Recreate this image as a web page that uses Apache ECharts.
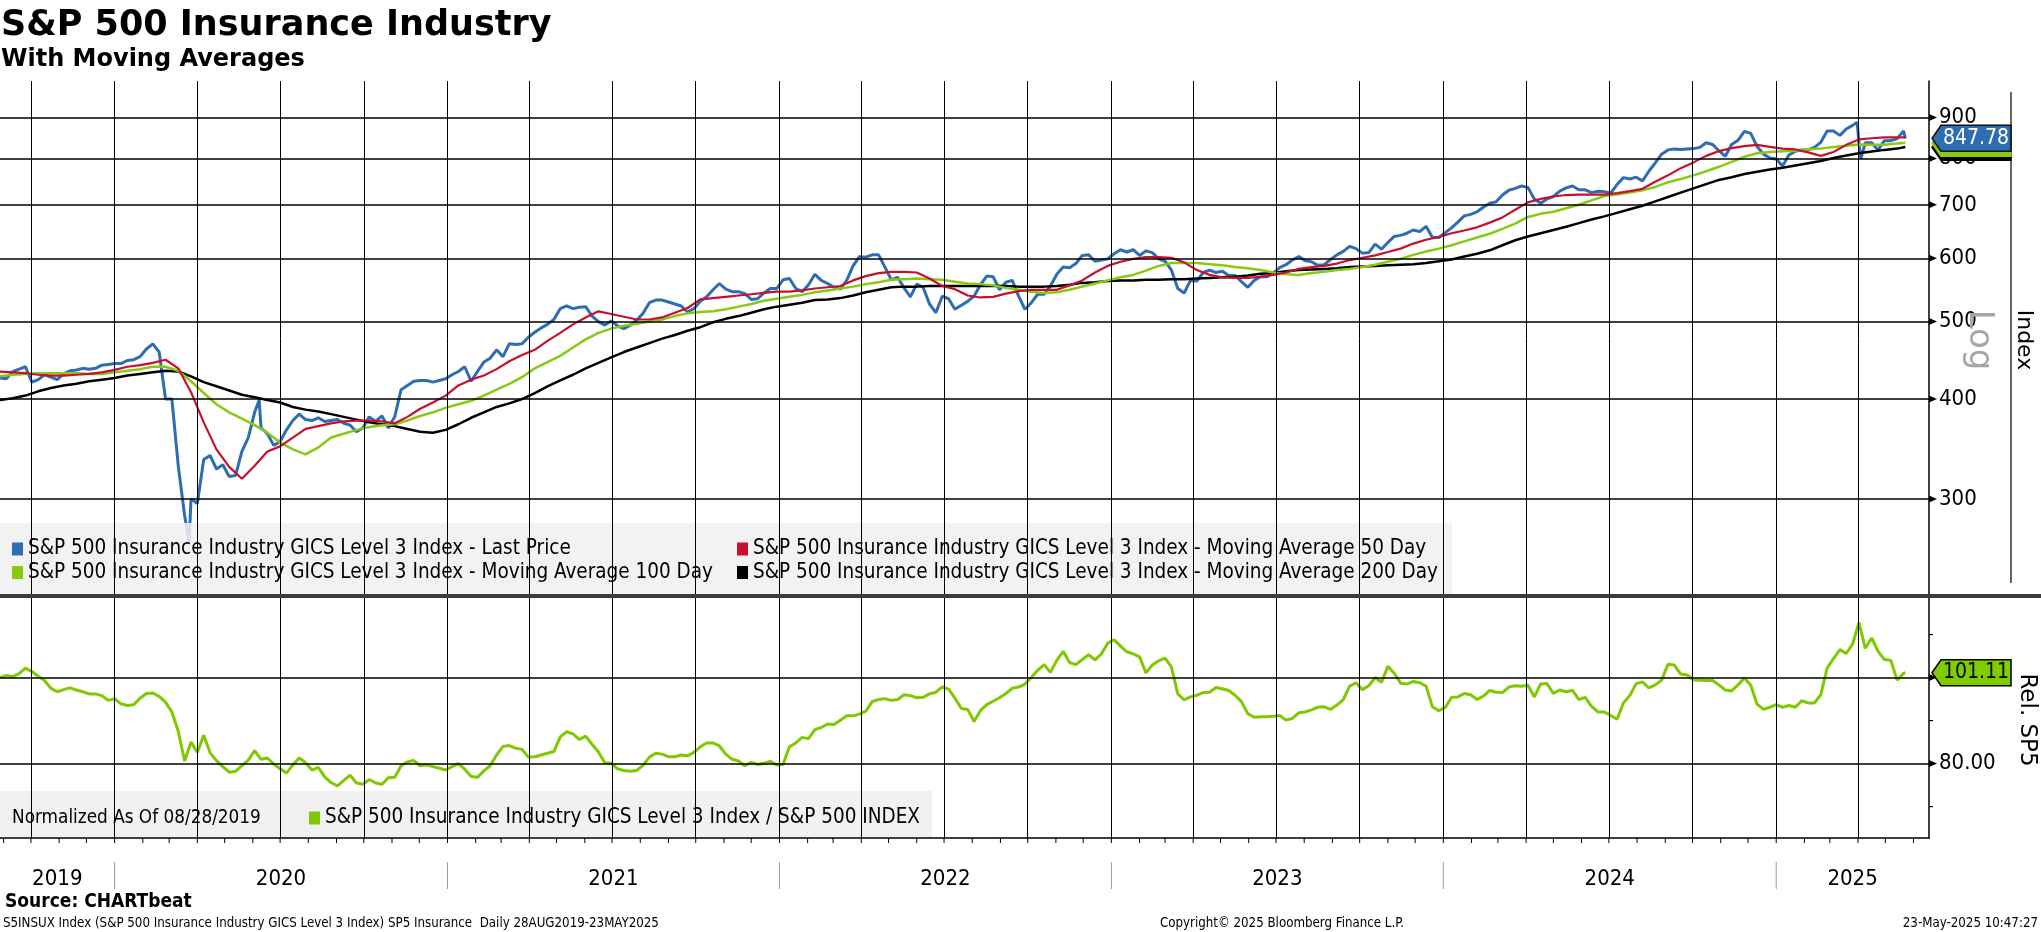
<!DOCTYPE html>
<html><head><meta charset="utf-8">
<script src="https://cdn.jsdelivr.net/npm/echarts@6/dist/echarts.min.js"></script>
<style>html,body{margin:0;padding:0;background:#fff;overflow:hidden}#c{width:2041px;height:932px}</style>
</head><body><div id="c"></div>
<script>
// ---------------- DATA ----------------
const START = '2019-08-28';          // first observation (normalisation date)
const LAST_DATE = '2025-05-23';      // last observation
const AXIS_END = '2025-06-18';       // right edge of the time axis

// S&P 500 Insurance Industry GICS Level 3 Index – last price, weekly from START
const lastPrice = [
425,424,433,436,439,420,423,429,426,423,
430,434,435,437,436,437,441,442,443,443,
447,448,452,462,469,458,400,400,330,286,
300,296,336,340,327,331,320,321,344,358,
385,368,362,350,354,366,376,383,377,376,
379,375,376,377,373,371,364,368,380,375,
381,368,380,411,416,421,422,422,420,422,
424,429,433,439,421,433,445,450,461,452,
469,468,469,478,485,491,496,503,519,523,
519,521,522,508,500,495,501,494,490,495,
502,512,528,532,532,529,526,523,514,519,
530,537,548,558,549,545,545,542,533,534,
543,550,550,564,566,550,545,556,573,563,
558,552,549,563,587,603,602,606,606,585,
564,568,551,537,557,552,526,513,538,534,
518,524,530,538,556,570,569,548,560,563,
538,518,528,541,541,554,573,585,584,591,
605,606,595,597,599,608,615,611,615,605,
613,610,599,595,580,550,543,563,562,576,
580,576,578,571,571,561,552,563,569,569,
575,584,589,597,603,596,594,588,589,598,
606,612,621,617,609,610,625,616,628,639,
641,645,651,648,658,637,637,646,655,666,
678,681,686,695,703,706,720,730,734,739,
736,712,703,712,717,728,735,739,731,731,
725,728,727,724,742,757,754,758,750,771,
790,810,820,822,821,822,823,826,837,833,
818,805,833,843,865,860,828,810,801,799,
783,808,817,820,820,826,838,866,866,855,
871,880,835,837,837,820,842,842,847,866];
const priceExtremes = [['2020-03-23',265],['2020-06-08',399],['2025-03-31',888],['2025-04-04',799]];
const lastPriceFinal = 847.78;

// moving averages, every 2 weeks from START
const ma50 = [
433,432,431,429,428,428,429,430,432,435,
439,441,444,448,437,408,374,346,329,318,
330,344,349,358,367,370,373,375,376,376,
375,373,380,389,396,404,416,423,428,436,
446,454,461,473,484,496,506,515,511,507,
503,503,506,513,520,533,535,537,539,541,
543,545,545,547,550,552,554,563,570,575,
577,577,576,566,554,549,539,536,537,542,
546,548,548,548,555,563,576,587,594,599,
602,602,601,593,580,572,568,567,567,569,
572,576,582,585,587,591,597,601,605,611,
617,626,633,638,645,650,656,665,675,690,
705,712,717,720,721,721,721,724,728,733,
748,762,778,791,806,817,824,829,832,827,
823,821,814,806,815,832,845,848,850,850];
const ma50Final = 850;
const ma100 = [
427,429,430,431,431,431,431,430,430,432,
434,436,439,439,434,421,407,394,385,378,
371,363,353,346,341,348,358,362,366,369,
371,372,376,381,385,390,394,398,404,411,
418,426,437,445,453,464,475,484,490,494,
497,500,503,508,512,514,515,518,522,526,
531,534,537,540,544,547,550,553,557,560,
564,565,566,565,564,561,558,557,555,551,
548,545,543,544,548,553,558,563,568,572,
579,587,592,592,592,590,588,585,583,580,
576,573,572,575,577,580,582,585,589,594,
599,606,612,617,623,630,637,644,653,663,
676,682,686,693,700,709,718,721,725,730,
737,747,754,762,771,781,792,804,812,815,
817,818,821,823,827,830,833,832,832,835];
const ma100Final = 837;
const ma200 = [
399,401,404,409,413,416,418,421,423,425,
428,430,432,434,433,427,420,415,410,405,
402,399,396,391,388,386,383,380,377,374,
372,370,367,364,363,366,372,379,385,391,
395,400,407,415,422,429,437,444,451,458,
464,470,476,481,487,492,499,504,508,513,
518,522,525,528,532,533,535,539,544,548,
552,553,553,554,554,554,554,554,554,554,
553,553,553,554,556,559,560,562,563,563,
564,564,565,565,566,567,568,569,571,574,
575,578,580,581,582,583,585,586,587,588,
589,590,592,595,598,603,608,614,623,632,
639,645,651,657,664,671,677,684,691,698,
707,716,725,734,743,752,758,765,770,775,
779,784,789,794,801,807,812,816,820,823];
const ma200Final = 827;

// Insurance / S&P 500, normalised to 100 on 08/28/2019, weekly from START
const relSP5 = [
100.0,100.5,100.2,100.9,102.2,101.4,100.3,99.3,97.5,96.7,
97.2,97.6,97.1,96.7,96.2,96.2,95.8,94.7,95.1,93.9,
93.5,93.7,95.2,96.3,96.4,95.6,94.3,92.0,87.5,80.6,
85.0,82.6,86.6,82.5,80.7,79.3,78.0,78.2,79.5,80.8,
83.0,81.0,81.3,79.9,78.8,77.8,79.7,81.3,80.2,78.5,
79.1,76.9,75.6,74.8,76.1,77.3,75.5,75.2,76.3,75.5,
75.2,76.7,76.8,79.5,80.4,80.7,79.5,79.7,79.3,78.9,
78.5,79.3,80.0,78.7,77.0,76.8,78.3,79.5,82.0,84.0,
84.2,83.6,83.3,81.5,81.6,82.0,82.4,82.8,86.2,87.4,
86.9,85.6,86.4,84.5,82.7,80.2,80.1,78.8,78.4,78.2,
78.4,79.6,81.5,82.4,82.2,81.6,81.6,82.0,81.8,82.6,
83.9,84.8,84.8,84.1,82.2,81.0,80.6,79.5,80.3,79.8,
80.1,80.5,79.7,79.8,83.9,84.8,86.1,85.8,87.9,88.4,
89.2,89.1,90.1,91.1,91.1,91.5,92.2,94.4,94.9,95.1,
94.7,94.9,96.0,95.8,95.3,95.4,96.2,96.6,97.8,97.3,
95.2,92.8,92.6,89.8,92.3,93.7,94.5,95.3,96.3,97.5,
97.8,98.5,100.0,101.7,103.0,101.2,104.0,106.1,103.5,103.0,
104.2,105.3,104.1,105.5,108.0,108.8,107.3,106.0,105.5,104.8,
101.1,102.9,103.9,104.5,102.5,96.2,94.8,95.5,95.9,96.5,
96.6,97.7,97.4,97.0,95.9,94.4,91.6,90.8,90.9,90.9,
91.0,91.2,90.1,90.5,91.8,92.0,92.5,93.1,93.2,92.6,
93.6,94.9,98.0,98.8,97.2,98.1,100.0,98.9,102.6,101.0,
98.7,98.5,99.1,98.8,98.0,93.2,92.3,93.0,95.4,95.5,
96.3,96.0,94.9,95.7,97.0,96.6,96.5,97.8,98.1,98.0,
98.2,95.5,98.5,98.6,96.3,97.1,96.7,97.0,94.9,95.4,
93.3,92.0,92.0,91.2,90.3,94.1,95.8,98.6,99.0,97.6,
98.3,99.4,103.1,102.9,100.8,100.6,99.5,99.4,99.3,99.3,
98.3,97.1,96.9,98.3,99.9,98.2,93.8,92.6,93.1,93.7,
93.1,93.5,93.1,94.6,94.1,94.1,96.0,102.2,104.4,106.5,
105.6,107.8,112.8,106.8,109.2,106.1,104.2,104.0,99.4,101.0];
const relFinal = 101.11;

const priceTicks = [300,400,500,600,700,800,900];
const relTicks = [80];
const relMinorTicks = [70,90,110];
const relGrid = [80,100];
const years = ['2019','2020','2021','2022','2023','2024','2025'];
const quarterLines = ['2019-10-01','2020-01-01','2020-04-01','2020-07-01','2020-10-01','2021-01-01','2021-04-01','2021-07-01','2021-10-01','2022-01-01','2022-04-01','2022-07-01','2022-10-01','2023-01-01','2023-04-01','2023-07-01','2023-10-01','2024-01-01','2024-04-01','2024-07-01','2024-10-01','2025-01-01','2025-04-01'];

const NAMES = {
  price: 'S&P 500 Insurance Industry GICS Level 3 Index - Last Price',
  ma50: 'S&P 500 Insurance Industry GICS Level 3 Index - Moving Average 50 Day',
  ma100: 'S&P 500 Insurance Industry GICS Level 3 Index - Moving Average 100 Day',
  ma200: 'S&P 500 Insurance Industry GICS Level 3 Index - Moving Average 200 Day',
  rel: 'S&P 500 Insurance Industry GICS Level 3 Index / S&P 500 INDEX'
};

// ---------------- BUILD ----------------
const DAY = 864e5;
const ts = s => { const p = s.split('-').map(Number); return Date.UTC(p[0], p[1]-1, p[2]); };
const T0 = ts(START), TL = ts(LAST_DATE), XMAX = ts(AXIS_END);
const series7 = (arr, stepDays) => arr.map((v, i) => [T0 + i*stepDays*DAY, v]);

const priceData = series7(lastPrice, 7).concat(priceExtremes.map(e => [ts(e[0]), e[1]]), [[TL, lastPriceFinal]]).sort((a,b)=>a[0]-b[0]);
const ma50Data = series7(ma50, 14).concat([[TL, ma50Final]]);
const ma100Data = series7(ma100, 14).concat([[TL, ma100Final]]);
const ma200Data = series7(ma200, 14).concat([[TL, ma200Final]]);
const relData = series7(relSP5, 7).concat([[TL, relFinal]]);

const BLUE = '#2e6db2', RED = '#c8102e', LIME = '#86cb12', BLACK = '#000000', REL = '#80c800';
const COND = '"DejaVu Sans Condensed", "Liberation Sans Narrow", "DejaVu Sans", sans-serif';
const SANS = '"DejaVu Sans", Verdana, sans-serif';

const GRID_R = 112;
const lineS = (name, data, color, width, xi, z) => ({
  name, type: 'line', data, xAxisIndex: xi, yAxisIndex: xi, color,
  showSymbol: false, symbol: 'none', animation: false, z: z || 2,
  lineStyle: { color, width }, itemStyle: { color }, emphasis: { disabled: true }
});
const gridMarks = (gi, hvals, hw) => ({
  type: 'line', xAxisIndex: gi, yAxisIndex: gi, data: [[T0, hvals[0]]], showSymbol: false,
  symbol: 'none', lineStyle: { opacity: 0 }, z: 6, silent: true, animation: false,
  markLine: {
    silent: true, symbol: ['none','none'], animation: false, label: { show: false },
    data: quarterLines.map(q => ({ xAxis: ts(q), lineStyle: { color: '#000', width: 1, type: 'solid' } }))
      .concat(hvals.map(v => ({ yAxis: v, lineStyle: { color: '#000', width: hw, type: 'solid' } })))
  }
});

const chart = echarts.init(document.getElementById('c'), null, { renderer: 'canvas' });
const LFS = 20.5;
const legendText = { fontSize: LFS, fontFamily: COND, color: '#000', lineHeight: 22 };
const legendBase = { padding: 0, orient: 'vertical', itemGap: 1.5, itemWidth: 11, itemHeight: 13, icon: 'rect', selectedMode: false, textStyle: legendText };
const option = {
  animation: false,
  backgroundColor: '#fff',
  grid: [
    { left: 0, right: GRID_R, top: 81, height: 515 },
    { left: 0, right: GRID_R, top: 598, height: 240 }
  ],
  xAxis: [
    { type: 'time', gridIndex: 0, min: T0, max: XMAX, axisLine: { show: false }, axisTick: { show: false }, axisLabel: { show: false }, splitLine: { show: false } },
    { type: 'time', gridIndex: 1, min: T0, max: XMAX, axisLine: { show: true, lineStyle: { color: '#000', width: 1.5 } }, axisTick: { show: false }, axisLabel: { show: false }, splitLine: { show: false } }
  ],
  yAxis: [
    { type: 'log', gridIndex: 0, position: 'right', min: 226.8, max: 1000,
      axisLine: { show: true, lineStyle: { color: '#000', width: 1.5 } }, axisTick: { show: false }, splitLine: { show: false },
      axisLabel: { customValues: priceTicks, margin: 10, fontSize: 22, fontFamily: COND, color: '#000', formatter: v => String(Math.round(v)) } },
    { type: 'value', gridIndex: 1, position: 'right', min: 62.7, max: 118.5,
      axisLine: { show: true, lineStyle: { color: '#000', width: 1.5 } }, axisTick: { show: false }, splitLine: { show: false },
      axisLabel: { customValues: relTicks, margin: 10, fontSize: 22, fontFamily: COND, color: '#000', formatter: v => v.toFixed(2) } }
  ],
  legend: [
    Object.assign({ left: 12, top: 538, data: [NAMES.price, NAMES.ma100] }, legendBase),
    Object.assign({ left: 737, top: 538, data: [NAMES.ma50, NAMES.ma200] }, legendBase),
    Object.assign({ left: 309, top: 807, data: [NAMES.rel] }, legendBase)
  ],
  series: [
    lineS(NAMES.price, priceData, BLUE, 3, 0, 2),
    lineS(NAMES.ma200, ma200Data, BLACK, 2.5, 0, 3),
    lineS(NAMES.ma100, ma100Data, LIME, 2.5, 0, 3),
    lineS(NAMES.ma50, ma50Data, RED, 2.2, 0, 3),
    lineS(NAMES.rel, relData, REL, 3, 1, 2),
    gridMarks(0, priceTicks, 1.5),
    gridMarks(1, relGrid, 1.5)
  ]
};
chart.setOption(option);

// ---------- decorations placed through the chart's own scales ----------
const P = (gi, t, v) => chart.convertToPixel({ gridIndex: gi }, [t, v]);
const ax = P(0, XMAX, 500)[0];
const g = [];
const txt = (x, y, text, o) => Object.assign({ type: 'text', x, y, silent: true, z: 20,
  style: Object.assign({ text, fill: '#000', align: 'left', verticalAlign: 'middle', fontFamily: COND, fontSize: 22 }, o || {}) });
// title block
g.push(txt(1, 26, 'S&P 500 Insurance Industry', { fontFamily: SANS, fontWeight: 'bold', fontSize: 35 }));
g.push(txt(1, 60, 'With Moving Averages', { fontFamily: SANS, fontWeight: 'bold', fontSize: 24 }));
// legend backgrounds
g.push({ type: 'rect', shape: { x: 0, y: 523, width: 1452, height: 71 }, style: { fill: 'rgba(240,240,240,0.86)' }, z: 3, silent: true });
g.push({ type: 'rect', shape: { x: 0, y: 791, width: 932, height: 46 }, style: { fill: 'rgba(240,240,240,0.9)' }, z: 3, silent: true });
g.push(txt(12, 818, 'Normalized As Of 08/28/2019', { fontSize: 18.8 }));
// panel separator
g.push({ type: 'rect', shape: { x: 0, y: 594, width: 2041, height: 4 }, style: { fill: '#3c3c3c' }, z: 8, silent: true });
// axis arrow ticks
priceTicks.forEach(v => { const y = P(0, XMAX, v)[1];
  g.push({ type: 'polygon', shape: { points: [[ax, y-3.5],[ax+8, y],[ax, y+3.5]] }, style: { fill: '#000' }, z: 9, silent: true }); });
relGrid.forEach(v => { const y = P(1, XMAX, v)[1];
  g.push({ type: 'polygon', shape: { points: [[ax, y-3.5],[ax+8, y],[ax, y+3.5]] }, style: { fill: '#000' }, z: 9, silent: true }); });
relMinorTicks.forEach(v => { const y = P(1, XMAX, v)[1];
  g.push({ type: 'line', shape: { x1: ax, y1: y, x2: ax+4, y2: y }, style: { stroke: '#000', lineWidth: 1.2 }, z: 9, silent: true }); });
// right axis titles
g.push({ type: 'line', shape: { x1: 2011, y1: 92, x2: 2011, y2: 583 }, style: { stroke: '#000', lineWidth: 1.2 }, z: 9, silent: true });
g.push(Object.assign(txt(2024, 340, 'Index', { align: 'center', fontFamily: SANS, fontSize: 22 }), { rotation: -Math.PI/2 }));
g.push(Object.assign(txt(1979, 340, 'Log', { align: 'center', fontFamily: SANS, fontSize: 34, fill: '#a6a6a6' }), { rotation: -Math.PI/2 }));
g.push(Object.assign(txt(2027, 720, 'Rel. SP5', { align: 'center', fontFamily: SANS, fontSize: 23 }), { rotation: -Math.PI/2 }));
// value tags
const tag = (y, fill, stroke, z) => ({ type: 'polygon', z, silent: true,
  shape: { points: [[ax+3, y],[ax+12, y-13],[2011, y-13],[2011, y+13],[ax+12, y+13]] },
  style: { fill, stroke, lineWidth: 1.5 } });
const yP = P(0, XMAX, lastPriceFinal)[1];
g.push(tag(yP + 9, '#000', '#000', 11));
g.push(tag(yP + 5, LIME, LIME, 12));
g.push(tag(yP, BLUE, '#0d0d0d', 13));
g.push(txt(ax + 47, yP, lastPriceFinal.toFixed(2), { align: 'center', fill: '#fff', fontSize: 21 }));
const yR = P(1, XMAX, relFinal)[1];
g.push(tag(yR, '#7fcc00', '#000', 13));
g.push(txt(ax + 47, yR, relFinal.toFixed(2), { align: 'center', fill: '#000', fontSize: 21 }));
// monthly ticks on the bottom axis
const axisY = P(1, XMAX, 62.7)[1];
for (let y = 2019, m = 8; ; m++) {
  if (m > 11) { m = 0; y++; }
  const t = Date.UTC(y, m, 1); if (t > XMAX) break;
  const x = P(1, t, 80)[0];
  g.push({ type: 'line', shape: { x1: x, y1: axisY, x2: x, y2: axisY + 5 }, style: { stroke: '#000', lineWidth: 1 }, z: 9, silent: true });
}
// year labels and separators
years.forEach((yr, i) => {
  const a = Math.max(T0, Date.UTC(+yr, 0, 1)), b = Math.min(XMAX, Date.UTC(+yr + 1, 0, 1));
  const xa = P(1, a, 80)[0], xb = P(1, b, 80)[0];
  g.push(txt((xa + xb) / 2, 879, yr, { align: 'center', fontSize: 22 }));
  if (i > 0) g.push({ type: 'line', shape: { x1: xa, y1: 862, x2: xa, y2: 889 }, style: { stroke: '#9a9a9a', lineWidth: 1 }, z: 9, silent: true });
});
// footer
g.push(txt(5, 902, 'Source: CHARTbeat', { fontWeight: 'bold', fontSize: 19 }));
g.push(txt(3, 924, 'S5INSUX Index (S&P 500 Insurance Industry GICS Level 3 Index) SP5 Insurance  Daily 28AUG2019-23MAY2025', { fontSize: 13.2 }));
g.push(txt(1282, 924, 'Copyright\u00A9 2025 Bloomberg Finance L.P.', { fontSize: 13.2, align: 'center' }));
g.push(txt(2038, 924, '23-May-2025 10:47:27', { fontSize: 13.2, align: 'right' }));

chart.setOption({ graphic: { elements: g } });
</script></body></html>
